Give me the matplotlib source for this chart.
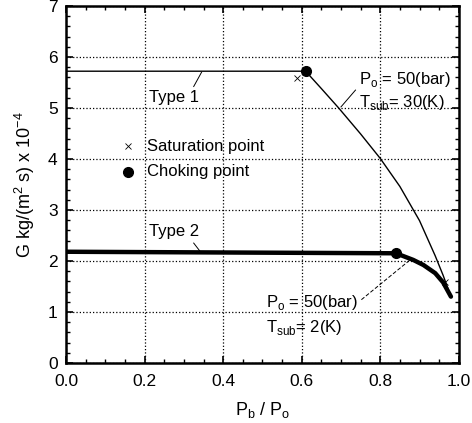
import matplotlib.pyplot as plt
import numpy as np
from matplotlib.ticker import MultipleLocator

plt.rcParams['font.family'] = ['Liberation Sans', 'DejaVu Sans']

# Type 1: Po = 50 bar, Tsub = 30 K
type1_x = [0.0, 0.61, 0.65, 0.694, 0.75, 0.80, 0.85, 0.90, 0.94, 0.96, 0.98]
type1_g = [5.72, 5.72, 5.38, 5.00, 4.49, 4.01, 3.46, 2.79, 2.10, 1.72, 1.30]
# Type 2: Po = 50 bar, Tsub = 2 K
type2_x = [0.0, 0.84, 0.884, 0.91, 0.94, 0.96, 0.98]
type2_g = [2.18, 2.15, 2.02, 1.92, 1.76, 1.58, 1.30]

choke_x = [0.61, 0.84]
choke_g = [5.72, 2.15]
sat_x = [0.587, 0.965]
sat_g = [5.58, 1.59]

fig = plt.figure(figsize=(4.72, 4.23), dpi=100)
ax = fig.add_axes([0.14, 0.142, 0.832, 0.844])

ax.plot(type1_x, type1_g, color='black', lw=1.0)
ax.plot(type2_x, type2_g, color='black', lw=3.2, solid_capstyle='round')
ax.plot(choke_x, choke_g, 'o', color='black', ms=7)
ax.plot(sat_x, sat_g, 'x', color='black', ms=4, mew=0.6)

# legend drawn as markers + text inside the axes
ax.plot([0.157], [4.25], 'x', color='black', ms=4, mew=0.6)
ax.plot([0.157], [3.75], 'o', color='black', ms=7)
ax.text(0.205, 4.25, 'Saturation point', fontsize=12, va='center')
ax.text(0.205, 3.75, 'Choking point', fontsize=12, va='center')

# labels and leader lines
ax.text(0.21, 5.2, 'Type 1', fontsize=12, va='center')
ax.plot([0.325, 0.345], [5.42, 5.70], color='black', lw=0.7)
ax.text(0.21, 2.57, 'Type 2', fontsize=12, va='center')
ax.plot([0.325, 0.34], [2.35, 2.2], color='black', lw=0.7)

ax.text(0.745, 5.55, r'P$_\mathregular{o}$ = 50(bar)', fontsize=12, va='center')
ax.text(0.745, 5.1, r'T$_\mathregular{sub}$= 30(K)', fontsize=12, va='center')
ax.plot([0.737, 0.70], [5.35, 5.02], color='black', lw=0.7)

ax.text(0.51, 1.18, r'P$_\mathregular{o}$ = 50(bar)', fontsize=12, va='center')
ax.text(0.51, 0.69, r'T$_\mathregular{sub}$= 2(K)', fontsize=12, va='center')
ax.plot([0.752, 0.876], [1.24, 2.02], color='black', lw=0.7, ls=(0, (4, 2)))

ax.set_xlim(0, 1.0)
ax.set_ylim(0, 7)
ax.xaxis.set_major_locator(MultipleLocator(0.2))
ax.xaxis.set_minor_locator(MultipleLocator(0.05))
ax.yaxis.set_major_locator(MultipleLocator(1))
ax.yaxis.set_minor_locator(MultipleLocator(0.2))
ax.set_xticklabels([f'{v:.1f}' for v in ax.get_xticks()])
ax.tick_params(which='both', direction='in', top=True, right=True, labelsize=12.5)
ax.tick_params(which='major', length=5, width=1.2)
ax.tick_params(which='minor', length=3, width=1)
ax.tick_params(axis='x', pad=8)
ax.tick_params(axis='y', pad=6)
ax.grid(True, which='major', ls=':', color='black', lw=0.9)
for s in ax.spines.values():
    s.set_linewidth(1.8)

ax.set_xlabel(r'P$_\mathregular{b}$ / P$_\mathregular{o}$', fontsize=13, labelpad=8)
ax.set_ylabel(r'G kg/(m$^\mathregular{2}$ s) x 10$^\mathregular{-4}$', fontsize=13, labelpad=8)

fig.savefig('out.png', dpi=100)
